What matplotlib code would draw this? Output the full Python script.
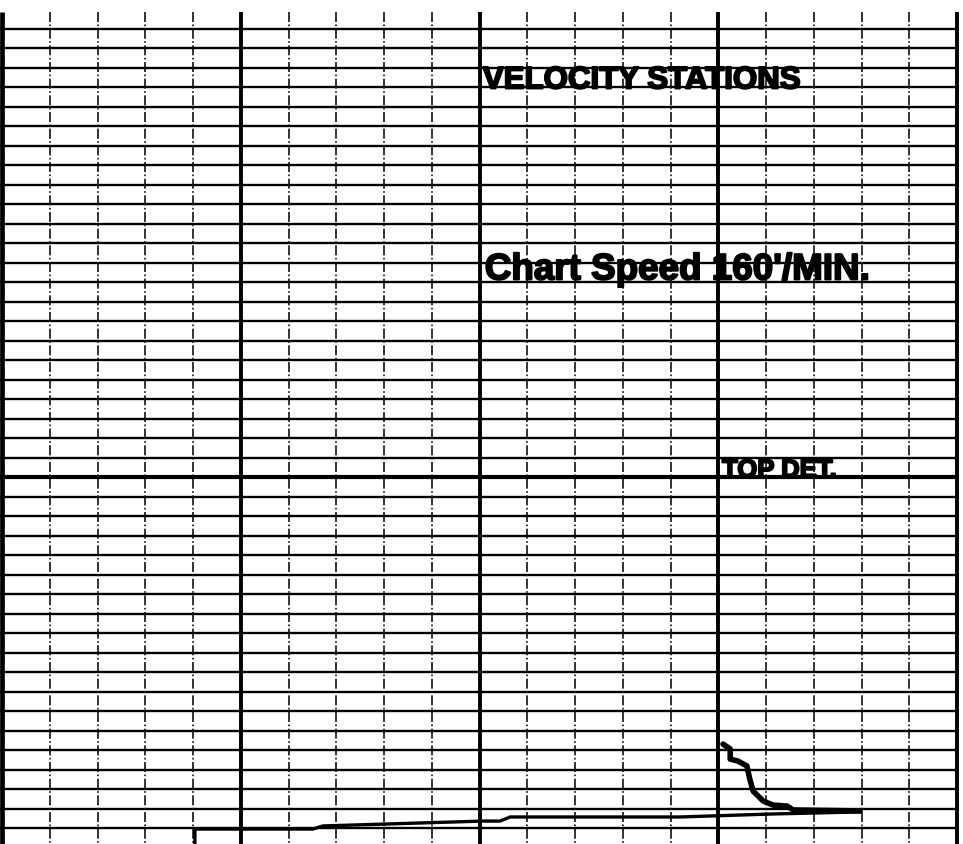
"""Velocity stations chart recorder strip - re-drawn from scan."""

import matplotlib

matplotlib.use("Agg")
import matplotlib.pyplot as plt
import matplotlib.patheffects as pe
import numpy as np

# grid, in chart divisions (x: columns, y: rows counted downward from top line)
N_COLS = 20
N_ROWS = 41
HEAVY_COLS = [0, 5, 10, 15, 20]
HEAVY_ROW = 23

# labels printed on the strip
LABELS = ["VELOCITY STATIONS", "Chart Speed 160'/MIN.", "TOP DET."]
LABEL_X = [10.07, 10.11, 15.08]
LABEL_Y = [3.05, 12.85, 23.0]
LABEL_SIZE = [22.5, 26.5, 18.5]

# pen traces (x div, y div)
trace_low_x = [4.04, 4.04, 6.51, 6.72, 10.07, 10.43, 10.64, 14.20, 16.08, 17.97]
trace_low_y = [42.5, 41.05, 41.05, 40.89, 40.64, 40.64, 40.43, 40.43, 40.28, 40.17]

trace_det_x = [15.10, 15.25, 15.25, 15.41, 15.60, 15.66, 15.73, 15.94, 16.15, 16.44, 16.57, 17.97]
trace_det_y = [36.69, 36.94, 37.46, 37.56, 37.81, 38.48, 39.10, 39.61, 39.82, 39.87, 40.07, 40.12]


def draw_grid(ax):
    cols = np.arange(N_COLS + 1)
    rows = np.arange(N_ROWS + 1)
    # horizontal rulings, solid
    for r in rows:
        lw = 3.0 if r == HEAVY_ROW else 1.7
        ax.hlines(r, -0.1, N_COLS, colors="black", linewidth=lw, zorder=1)
    # vertical rulings, thin ones are broken
    for c in cols:
        if c in HEAVY_COLS:
            lw = 3.4 if c == 0 else 2.8
            ax.vlines(c, -0.87, 43, colors="black", linewidth=lw, zorder=2)
        else:
            ax.vlines(c, -0.87, 43, colors="#111111", linewidth=1.2,
                      linestyles=(0, (6, 1.5, 1, 1.5)), zorder=1)


fig = plt.figure(figsize=(9.63, 8.45), dpi=100)
fig.patch.set_facecolor("white")
ax = fig.add_axes([0, 0, 1, 1])
ax.set_xlim(-2 / 47.75, 961 / 47.75)
ax.set_ylim((845 - 30) / 19.49, -30 / 19.49)
ax.set_axis_off()

draw_grid(ax)

ax.plot(trace_low_x, trace_low_y, color="black", linewidth=2.4,
        solid_joinstyle="round", solid_capstyle="round", zorder=4)
ax.plot(trace_det_x, trace_det_y, color="black", linewidth=4.0,
        solid_joinstyle="round", solid_capstyle="round", zorder=4)

for txt, x, y, fs in zip(LABELS, LABEL_X, LABEL_Y, LABEL_SIZE):
    t = ax.text(x, y, txt, fontsize=fs, fontweight="bold",
                family=["Liberation Sans", "DejaVu Sans"],
                ha="left", va="baseline", color="black", zorder=5)
    t.set_path_effects([pe.withStroke(linewidth=1.4, foreground="black")])

fig.savefig("out.png", dpi=100, facecolor=fig.get_facecolor())
plt.close(fig)
